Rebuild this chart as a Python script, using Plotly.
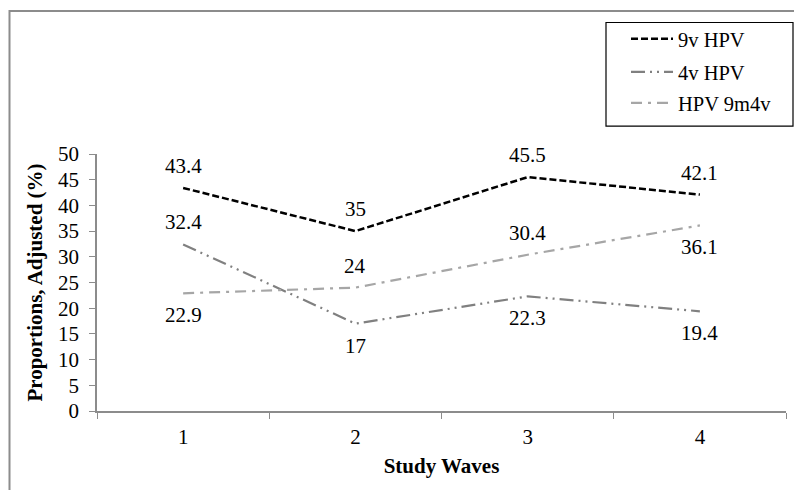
import plotly.graph_objects as go

waves = ["1", "2", "3", "4"]
v9 = [43.4, 35, 45.5, 42.1]
v4 = [32.4, 17, 22.3, 19.4]
v9m4 = [22.9, 24, 30.4, 36.1]
y_ticks = list(range(0, 51, 5))

# label placement: +1 above point, -1 below point
pos9 = [1, 1, 1, 1]
pos4 = [1, -1, -1, -1]
pos9m4 = [-1, 1, 1, -1]

W, H = 802, 490
L, R, T, B = 89, 24, 145, 87
pw, ph = W - L - R, H - T - B

def px(x):
    return (x - L) / pw

def py(y):
    return (H - B - y) / ph

font = "Liberation Serif"
FS = 21

series = [
    ("9v HPV", v9, pos9, dict(color="black", width=2.5, dash="7px,3px"), "legend"),
    ("4v HPV", v4, pos4, dict(color="#808080", width=2.2, dash="14px,5px,2px,5px,2px,5px"), "legend2"),
    ("HPV 9m4v", v9m4, pos9m4, dict(color="#a6a6a6", width=2.2, dash="11px,6px,3px,6px"), "legend3"),
]

fig = go.Figure()
annotations = []
for name, vals, pos, line, leg in series:
    fig.add_trace(go.Scatter(x=waves, y=vals, name=name, mode="lines",
                             line=line, legend=leg, showlegend=True))
    for i, (yv, p) in enumerate(zip(vals, pos)):
        annotations.append(dict(
            x=i, y=yv, xref="x", yref="y", text=str(yv), showarrow=False,
            yanchor="bottom" if p > 0 else "top", yshift=8 * p,
            font=dict(family=font, size=FS, color="black"),
        ))

legend_rows = [31, 64, 95]
def leg(yc):
    return dict(x=px(618), y=py(yc), xanchor="left", yanchor="middle",
                borderwidth=0, bgcolor="rgba(0,0,0,0)", itemwidth=42,
                font=dict(family=font, size=20.5, color="black"))

fig.update_layout(
    width=W, height=H,
    margin=dict(l=L, r=R, t=T, b=B),
    paper_bgcolor="white", plot_bgcolor="white",
    showlegend=True,
    font=dict(family=font, size=FS, color="black"),
    legend=leg(legend_rows[0]),
    legend2=leg(legend_rows[1]),
    legend3=leg(legend_rows[2]),
    annotations=annotations,
    xaxis=dict(
        type="category", range=[-0.5, 3.5],
        showline=True, linecolor="#8c8c8c", linewidth=1.5,
        ticks="outside", ticklen=6, tickcolor="#8c8c8c", tickson="boundaries",
        ticklabelstandoff=6,
        showgrid=False, zeroline=False,
        tickfont=dict(family=font, size=FS, color="black"),
        title=dict(text="<b>Study Waves</b>", standoff=10,
                   font=dict(family=font, size=FS, color="black")),
    ),
    yaxis=dict(
        range=[0, 50], tickvals=y_ticks,
        showline=True, linecolor="#8c8c8c", linewidth=1.5,
        ticks="outside", ticklen=6, tickcolor="#8c8c8c",
        ticklabelstandoff=6,
        showgrid=False, zeroline=False,
        tickfont=dict(family=font, size=FS, color="black"),
        title=dict(text="<b>Proportions, Adjusted (%)</b>", standoff=10,
                   font=dict(family=font, size=FS, color="black")),
    ),
    shapes=[
        dict(type="rect", xref="paper", yref="paper",
             x0=px(1.5), x1=px(797), y0=py(488), y1=py(1.5),
             line=dict(color="#8c8c8c", width=2), fillcolor="rgba(0,0,0,0)",
             layer="below"),
        dict(type="rect", xref="paper", yref="paper",
             x0=px(598), x1=px(785), y0=py(117), y1=py(13),
             line=dict(color="black", width=1.2), fillcolor="white",
             layer="below"),
    ],
)

fig.write_html("out.html")
